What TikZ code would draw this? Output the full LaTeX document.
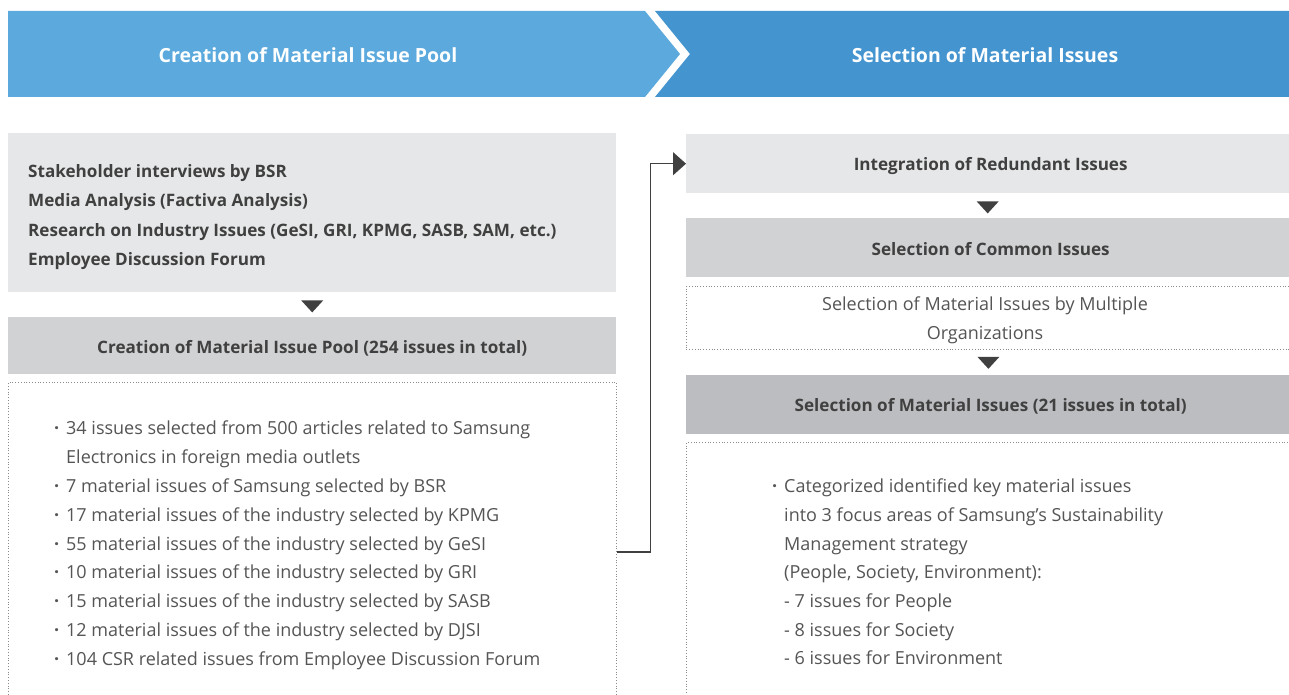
\documentclass[tikz,border=0pt]{standalone}
\usepackage{fontspec}
\setmainfont{Open Sans}
\usetikzlibrary{arrows.meta,calc}
\definecolor{hdrL}{HTML}{5BA9DD}
\definecolor{hdrR}{HTML}{4494D0}
\definecolor{boxA}{HTML}{E6E7E8}
\definecolor{boxB}{HTML}{D1D2D4}
\definecolor{boxC}{HTML}{BCBDC0}
\definecolor{txtB}{HTML}{404040}
\definecolor{txtR}{HTML}{555555}
\definecolor{dotc}{HTML}{8A8A8A}
\newcommand{\blt}{\makebox[13pt][l]{\hspace{1pt}\textbf{·}}}
\newcommand{\nblt}{\hspace*{13pt}}
\begin{document}
\begin{tikzpicture}[x=1pt,y=-1pt,
  box/.style={draw=none,inner sep=0,anchor=north west},
  dotbox/.style={draw=dotc,dotted,line width=0.8pt,inner sep=0,anchor=north west},
  boldtxt/.style={font=\fontsize{17.1}{29.5}\selectfont\bfseries,text=txtB,inner sep=0},
  regtxt/.style={font=\fontsize{18}{28.9}\selectfont,text=txtR,inner sep=0},
  regtxtR/.style={font=\fontsize{18}{28.65}\selectfont,text=txtR,inner sep=0},
  hdrtxt/.style={font=\fontsize{19.5}{24}\selectfont\bfseries,text=white,inner sep=0},
  tri/.style={fill=txtB},
  conn/.style={draw=txtB,line width=1.2pt,-{Triangle[length=13pt,width=23pt]}}
]
\useasboundingbox (0,0) rectangle (1289,695);
\clip (0,0) rectangle (1289,695);
\fill[white] (0,0) rectangle (1289,695);
% header
\fill[hdrL] (8,11) -- (645,11) -- (680,54) -- (645,97) -- (8,97) -- cycle;
\fill[hdrR] (655,11) -- (1289,11) -- (1289,97) -- (655,97) -- (690,54) -- cycle;
\node[hdrtxt] (h1) at (308,55) {Creation of Material Issue Pool};
\node[hdrtxt] (h2) at (985,55) {Selection of Material Issues};
% left column
\node[box,fill=boxA,minimum width=608,minimum height=159] (b1) at (8,133) {};
\node[boldtxt,align=left,anchor=west] (b1t) at (28,217) {Stakeholder interviews by BSR\\Media Analysis (Factiva Analysis)\\Research on Industry Issues (GeSI, GRI, KPMG, SASB, SAM, etc.)\\Employee Discussion Forum};
\node[box,fill=boxB,minimum width=608,minimum height=57] (b2) at (8,317) {};
\node[boldtxt] (b2t) at ($(b2.center)+(0,2.5)$) {Creation of Material Issue Pool (254 issues in total)};
\node[dotbox,minimum width=608,minimum height=340] (b3) at (8,382) {};
\node[regtxt,align=left,anchor=north west] (b3t) at (53,420.5) {%
\blt 34 issues selected from 500 articles related to Samsung\\
\nblt Electronics in foreign media outlets\\
\blt 7 material issues of Samsung selected by BSR\\
\blt 17 material issues of the industry selected by KPMG\\
\blt 55 material issues of the industry selected by GeSI\\
\blt 10 material issues of the industry selected by GRI\\
\blt 15 material issues of the industry selected by SASB\\
\blt 12 material issues of the industry selected by DJSI\\
\blt 104 CSR related issues from Employee Discussion Forum};
\fill[tri] ($(b1.south)+(-11,8)$) -- ++(22,0) -- ++(-11,12) -- cycle;
% right column
\node[box,fill=boxA,minimum width=603,minimum height=59] (r1) at (686,134) {};
\node[boldtxt] (r1t) at ($(r1.center)+(3,2.5)$) {Integration of Redundant Issues};
\node[box,fill=boxB,minimum width=603,minimum height=59] (r2) at (686,218) {};
\node[boldtxt] (r2t) at ($(r2.center)+(3,1.5)$) {Selection of Common Issues};
\node[dotbox,minimum width=610,minimum height=63] (r3) at (686,286) {};
\node[regtxt,align=center] (r3t) at (985,320.5) {Selection of Material Issues by Multiple\\Organizations};
\node[box,fill=boxC,minimum width=603,minimum height=59] (r4) at (686,375) {};
\node[boldtxt] (r4t) at ($(r4.center)+(3,2)$) {Selection of Material Issues (21 issues in total)};
\node[dotbox,minimum width=610,minimum height=300] (r5) at (686,442) {};
\node[regtxtR,align=left,anchor=north west] (r5t) at (771,479) {%
\blt Categorized identified key material issues\\
\nblt into 3 focus areas of Samsung’s Sustainability\\
\nblt Management strategy\\
\nblt (People, Society, Environment):\\
\nblt - 7 issues for People\\
\nblt - 8 issues for Society\\
\nblt - 6 issues for Environment};
\fill[tri] ($(r1.south)+(-11,8)$) -- ++(22,0) -- ++(-11,12) -- cycle;
\fill[tri] ($(r3.south)+(-14,7)$) -- ++(22,0) -- ++(-11,12) -- cycle;
% connector
\coordinate (cstart) at ($(b3.north east)+(0,170)$);
\draw[conn] (cstart) -- ++(34,0) |- (r1.west);
\end{tikzpicture}
\end{document}
